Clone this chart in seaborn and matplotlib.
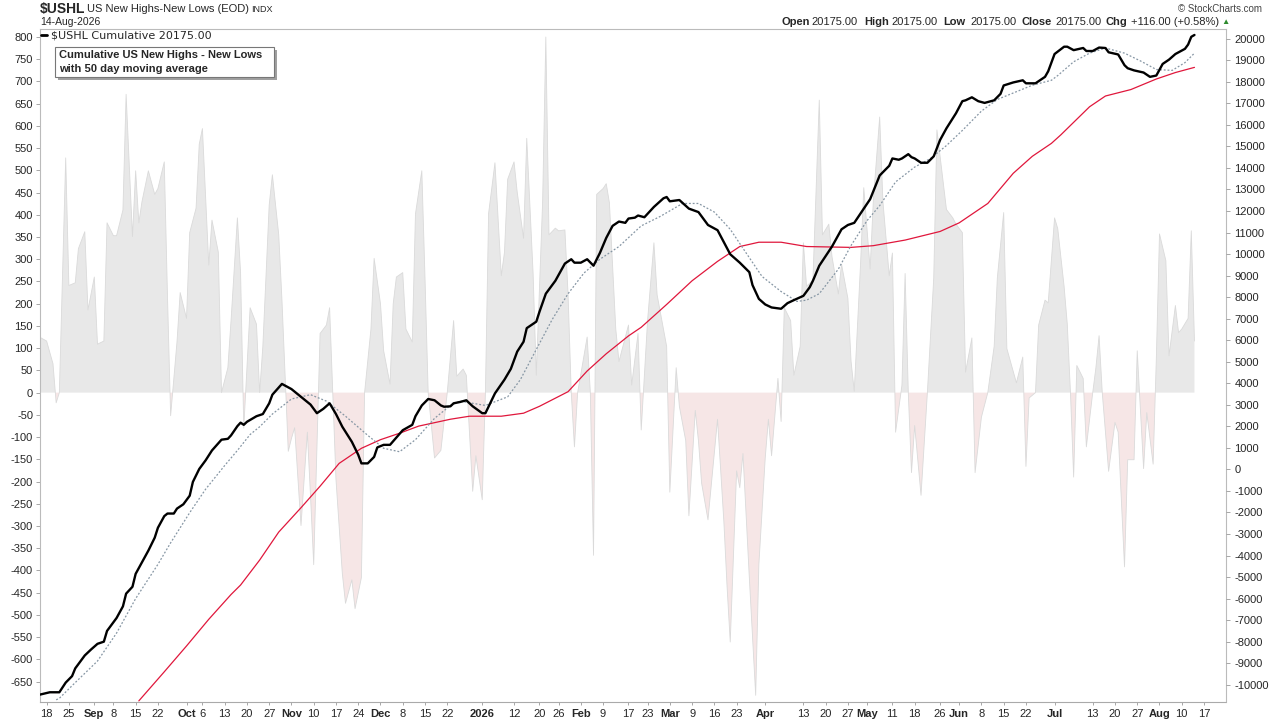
import matplotlib
matplotlib.use('Agg')
import matplotlib.pyplot as plt
from matplotlib.lines import Line2D
from matplotlib.patches import Rectangle
import numpy as np
import pandas as pd
import seaborn as sns

# daily new highs - new lows (left axis), vertices
hl_dates = [
    '2025-08-15', '2025-08-18', '2025-08-20', '2025-08-21', '2025-08-22', '2025-08-24', '2025-08-25', '2025-08-27',
    '2025-08-28', '2025-08-30', '2025-08-31', '2025-09-02', '2025-09-03', '2025-09-05', '2025-09-06', '2025-09-08',
    '2025-09-09', '2025-09-11', '2025-09-12', '2025-09-14', '2025-09-15', '2025-09-16', '2025-09-17', '2025-09-19',
    '2025-09-21', '2025-09-22', '2025-09-24', '2025-09-25', '2025-09-26', '2025-09-28', '2025-09-29', '2025-10-01',
    '2025-10-02', '2025-10-04', '2025-10-05', '2025-10-06', '2025-10-08', '2025-10-09', '2025-10-11', '2025-10-12',
    '2025-10-14', '2025-10-15', '2025-10-17', '2025-10-18', '2025-10-19', '2025-10-21', '2025-10-23', '2025-10-24',
    '2025-10-25', '2025-10-27', '2025-10-28', '2025-10-30', '2025-10-31', '2025-11-02', '2025-11-03', '2025-11-04',
    '2025-11-06', '2025-11-08', '2025-11-09', '2025-11-10', '2025-11-12', '2025-11-14', '2025-11-15', '2025-11-16',
    '2025-11-17', '2025-11-19', '2025-11-20', '2025-11-22', '2025-11-23', '2025-11-25', '2025-11-26', '2025-11-28',
    '2025-11-29', '2025-12-01', '2025-12-02', '2025-12-04', '2025-12-05', '2025-12-06', '2025-12-08', '2025-12-09',
    '2025-12-11', '2025-12-12', '2025-12-14', '2025-12-15', '2025-12-16', '2025-12-18', '2025-12-20', '2025-12-22',
    '2025-12-24', '2025-12-25', '2025-12-27', '2025-12-28', '2025-12-30', '2025-12-31', '2026-01-02', '2026-01-03',
    '2026-01-04', '2026-01-06', '2026-01-08', '2026-01-09', '2026-01-10', '2026-01-12', '2026-01-13', '2026-01-15',
    '2026-01-16', '2026-01-18', '2026-01-19', '2026-01-21', '2026-01-22', '2026-01-23', '2026-01-25', '2026-01-26',
    '2026-01-28', '2026-01-29', '2026-01-30', '2026-01-31', '2026-02-01', '2026-02-02', '2026-02-04', '2026-02-05',
    '2026-02-06', '2026-02-07', '2026-02-09', '2026-02-10', '2026-02-11', '2026-02-13', '2026-02-14', '2026-02-17',
    '2026-02-18', '2026-02-20', '2026-02-21', '2026-02-23', '2026-02-25', '2026-02-26', '2026-02-27', '2026-03-01',
    '2026-03-02', '2026-03-04', '2026-03-05', '2026-03-07', '2026-03-08', '2026-03-10', '2026-03-11', '2026-03-12',
    '2026-03-14', '2026-03-16', '2026-03-17', '2026-03-19', '2026-03-20', '2026-03-21', '2026-03-23', '2026-03-24',
    '2026-03-25', '2026-03-27', '2026-03-29', '2026-03-30', '2026-04-01', '2026-04-02', '2026-04-03', '2026-04-05',
    '2026-04-06', '2026-04-07', '2026-04-09', '2026-04-10', '2026-04-12', '2026-04-13', '2026-04-14', '2026-04-16',
    '2026-04-18', '2026-04-19', '2026-04-21', '2026-04-22', '2026-04-24', '2026-04-25', '2026-04-27', '2026-04-28',
    '2026-04-29', '2026-05-01', '2026-05-02', '2026-05-04', '2026-05-05', '2026-05-07', '2026-05-08', '2026-05-10',
    '2026-05-11', '2026-05-12', '2026-05-14', '2026-05-15', '2026-05-16', '2026-05-17', '2026-05-18', '2026-05-20',
    '2026-05-22', '2026-05-24', '2026-05-25', '2026-05-28', '2026-05-30', '2026-05-31', '2026-06-02', '2026-06-03',
    '2026-06-05', '2026-06-06', '2026-06-08', '2026-06-10', '2026-06-12', '2026-06-13', '2026-06-15', '2026-06-16',
    '2026-06-19', '2026-06-21', '2026-06-22', '2026-06-23', '2026-06-25', '2026-06-26', '2026-06-28', '2026-06-29',
    '2026-07-01', '2026-07-02', '2026-07-04', '2026-07-05', '2026-07-06', '2026-07-07', '2026-07-08', '2026-07-10',
    '2026-07-11', '2026-07-13', '2026-07-14', '2026-07-15', '2026-07-16', '2026-07-18', '2026-07-20', '2026-07-21',
    '2026-07-23', '2026-07-24', '2026-07-26', '2026-07-27', '2026-07-29', '2026-07-30', '2026-08-01', '2026-08-02',
    '2026-08-03', '2026-08-05', '2026-08-06', '2026-08-08', '2026-08-09', '2026-08-10', '2026-08-12', '2026-08-13',
    '2026-08-14',
]
hl_values = [
    128, 116, 65, -23, 0, 528, 241, 247,
    324, 362, 186, 260, 109, 116, 382, 353,
    353, 411, 671, 351, 499, 382, 430, 499,
    446, 459, 519, 220, -52, 114, 225, 167,
    360, 415, 559, 594, 287, 388, 316, 0,
    56, 162, 393, 270, -80, 191, 154, 0,
    104, 422, 490, 355, 210, -132, -103, -79,
    -299, -89, -233, -387, 133, 152, 191, 0,
    -195, -407, -474, -421, -486, -416, 0, 143,
    302, 200, 94, 19, 200, 260, 270, 143,
    114, 402, 499, 258, 0, -147, -130, 0,
    162, 37, 53, 39, -222, -142, -241, 0,
    403, 517, 263, 316, 480, 519, 451, 347,
    572, 268, 39, 431, 800, 355, 370, 364,
    366, 220, 0, -122, 0, 41, 125, 0,
    -366, 446, 459, 470, 427, 143, 70, 152,
    17, 133, -84, 162, 337, 220, 181, 104,
    -224, 56, -31, -108, -277, -40, -108, -204,
    -286, -137, -60, -291, -436, -561, -176, -214,
    -137, -416, -681, -387, -147, -60, -142, 32,
    -65, 191, 162, 39, 104, 337, 239, 253,
    658, 355, 379, 306, 222, 289, 212, 70,
    3, 292, 461, 278, 432, 620, 432, 263,
    314, -89, 17, 268, 0, -180, -74, -231,
    0, 258, 591, 412, 393, 379, 360, 46,
    123, -180, -55, 0, 104, 258, 405, 99,
    22, 80, -166, -12, 0, 152, 208, 202,
    393, 369, 239, 154, 0, -190, 61, 32,
    -122, 0, 56, 128, 0, -177, -67, -89,
    -392, -151, -151, 94, -171, -45, -161, 75,
    357, 297, 83, 196, 135, 143, 167, 364,
    116,
]

# cumulative line (right axis)
cum_dates = [
    '2025-08-15', '2025-08-19', '2025-08-22', '2025-08-24', '2025-08-26', '2025-08-27', '2025-08-30', '2025-09-01',
    '2025-09-03', '2025-09-05', '2025-09-06', '2025-09-09', '2025-09-11', '2025-09-12', '2025-09-14', '2025-09-15',
    '2025-09-17', '2025-09-19', '2025-09-21', '2025-09-22', '2025-09-24', '2025-09-25', '2025-09-27', '2025-09-28',
    '2025-09-30', '2025-10-02', '2025-10-03', '2025-10-05', '2025-10-07', '2025-10-09', '2025-10-12', '2025-10-14',
    '2025-10-15', '2025-10-17', '2025-10-18', '2025-10-19', '2025-10-20', '2025-10-23', '2025-10-25', '2025-10-27',
    '2025-10-28', '2025-10-31', '2025-11-03', '2025-11-04', '2025-11-06', '2025-11-09', '2025-11-11', '2025-11-13',
    '2025-11-15', '2025-11-17', '2025-11-19', '2025-11-22', '2025-11-24', '2025-11-25', '2025-11-27', '2025-11-29',
    '2025-11-30', '2025-12-02', '2025-12-04', '2025-12-06', '2025-12-08', '2025-12-11', '2025-12-12', '2025-12-14',
    '2025-12-16', '2025-12-18', '2025-12-20', '2025-12-21', '2025-12-23', '2025-12-24', '2025-12-26', '2025-12-28',
    '2025-12-30', '2026-01-02', '2026-01-03', '2026-01-06', '2026-01-09', '2026-01-11', '2026-01-13', '2026-01-15',
    '2026-01-16', '2026-01-19', '2026-01-20', '2026-01-22', '2026-01-25', '2026-01-28', '2026-01-30', '2026-01-31',
    '2026-02-02', '2026-02-04', '2026-02-06', '2026-02-08', '2026-02-10', '2026-02-12', '2026-02-14', '2026-02-16',
    '2026-02-17', '2026-02-19', '2026-02-20', '2026-02-22', '2026-02-25', '2026-02-28', '2026-03-01', '2026-03-02',
    '2026-03-05', '2026-03-08', '2026-03-11', '2026-03-14', '2026-03-17', '2026-03-19', '2026-03-21', '2026-03-24',
    '2026-03-27', '2026-03-28', '2026-03-30', '2026-04-01', '2026-04-03', '2026-04-06', '2026-04-08', '2026-04-10',
    '2026-04-13', '2026-04-15', '2026-04-16', '2026-04-18', '2026-04-22', '2026-04-25', '2026-04-27', '2026-04-29',
    '2026-05-02', '2026-05-04', '2026-05-07', '2026-05-10', '2026-05-11', '2026-05-13', '2026-05-14', '2026-05-16',
    '2026-05-17', '2026-05-18', '2026-05-20', '2026-05-22', '2026-05-24', '2026-05-26', '2026-05-28', '2026-05-31',
    '2026-06-02', '2026-06-03', '2026-06-05', '2026-06-07', '2026-06-09', '2026-06-12', '2026-06-14', '2026-06-15',
    '2026-06-18', '2026-06-21', '2026-06-22', '2026-06-25', '2026-06-28', '2026-06-29', '2026-07-01', '2026-07-04',
    '2026-07-05', '2026-07-07', '2026-07-10', '2026-07-11', '2026-07-13', '2026-07-15', '2026-07-17', '2026-07-18',
    '2026-07-21', '2026-07-23', '2026-07-24', '2026-07-26', '2026-07-29', '2026-07-31', '2026-08-02', '2026-08-04',
    '2026-08-06', '2026-08-08', '2026-08-11', '2026-08-12', '2026-08-13', '2026-08-14',
]
cum_values = [
    -10490, -10350, -10350, -9900, -9600, -9240, -8640, -8360,
    -8100, -8000, -7500, -6900, -6360, -5770, -5450, -4850,
    -4310, -3770, -3170, -2710, -2170, -2050, -2050, -1820,
    -1620, -1220, -580, 20, 420, 880, 1380, 1420,
    1580, 2010, 2170, 2070, 2210, 2470, 2570, 3070,
    3470, 3970, 3730, 3610, 3370, 3010, 2610, 2810,
    3070, 2570, 1980, 1280, 680, 280, 280, 580,
    1020, 1140, 1140, 1480, 1820, 2070, 2470, 2970,
    3270, 3210, 2970, 2910, 2930, 3070, 3130, 3210,
    2930, 2610, 2610, 3530, 4170, 4670, 5470, 5930,
    6560, 6860, 7320, 8160, 8760, 9560, 9760, 9600,
    9600, 9760, 9460, 10050, 10750, 11310, 11510, 11450,
    11650, 11690, 11790, 11710, 12190, 12590, 12650, 12450,
    12510, 12110, 11950, 11350, 11110, 10550, 9990, 9600,
    9160, 8560, 7920, 7660, 7520, 7460, 7720, 7860,
    8060, 8460, 8760, 9460, 10350, 11150, 11350, 11450,
    12110, 12550, 13650, 14100, 14440, 14380, 14440, 14640,
    14500, 14440, 14240, 14240, 14540, 15300, 15840, 16540,
    17100, 17140, 17280, 17100, 17020, 17140, 17440, 17830,
    17970, 18070, 17930, 17930, 18230, 18490, 19290, 19630,
    19630, 19470, 19570, 19430, 19430, 19590, 19570, 19370,
    19270, 18770, 18630, 18530, 18430, 18230, 18290, 18830,
    19030, 19290, 19530, 19730, 20090, 20175,
]

# short moving average of the cumulative line (dotted)
ma_dates = [
    '2025-08-21', '2025-08-22', '2025-08-27', '2025-09-03', '2025-09-09', '2025-09-15', '2025-09-22', '2025-09-26',
    '2025-10-02', '2025-10-07', '2025-10-13', '2025-10-17', '2025-10-21', '2025-10-24', '2025-10-28', '2025-11-03',
    '2025-11-09', '2025-11-14', '2025-11-20', '2025-11-27', '2025-12-02', '2025-12-07', '2025-12-12', '2025-12-18',
    '2025-12-23', '2025-12-26', '2026-01-03', '2026-01-10', '2026-01-14', '2026-01-19', '2026-01-24', '2026-01-29',
    '2026-02-03', '2026-02-08', '2026-02-14', '2026-02-21', '2026-02-27', '2026-03-06', '2026-03-11', '2026-03-16',
    '2026-03-21', '2026-03-26', '2026-03-31', '2026-04-06', '2026-04-11', '2026-04-14', '2026-04-18', '2026-04-24',
    '2026-04-28', '2026-05-03', '2026-05-07', '2026-05-12', '2026-05-18', '2026-05-23', '2026-05-28', '2026-06-02',
    '2026-06-08', '2026-06-13', '2026-06-19', '2026-06-24', '2026-06-30', '2026-07-02', '2026-07-07', '2026-07-12',
    '2026-07-17', '2026-07-23', '2026-07-28', '2026-08-02', '2026-08-07', '2026-08-11', '2026-08-14',
]
ma_values = [
    -10700, -10630, -9900, -8900, -7600, -6000, -4410, -3410,
    -2010, -920, 180, 880, 1620, 1980, 2570, 3270,
    3470, 3170, 2470, 1580, 980, 820, 1380, 2370,
    2970, 3170, 2970, 3370, 4170, 5570, 6960, 8160,
    9120, 9760, 10350, 11310, 11750, 12350, 12350, 11950,
    11150, 10050, 8960, 8260, 7800, 7860, 8160, 9300,
    10400, 11550, 12250, 13350, 14040, 14440, 15040, 15740,
    16640, 17180, 17540, 17840, 18070, 18290, 18930, 19330,
    19570, 19330, 18970, 18570, 18530, 18890, 19330,
]

# long moving average (red)
red_dates = [
    '2025-09-16', '2025-09-24', '2025-10-01', '2025-10-08', '2025-10-15', '2025-10-18', '2025-10-24', '2025-10-30',
    '2025-11-06', '2025-11-12', '2025-11-18', '2025-11-25', '2025-12-01', '2025-12-07', '2025-12-13', '2025-12-23',
    '2025-12-29', '2026-01-08', '2026-01-15', '2026-01-20', '2026-01-29', '2026-02-04', '2026-02-10', '2026-02-17',
    '2026-02-21', '2026-03-01', '2026-03-09', '2026-03-17', '2026-03-24', '2026-03-30', '2026-04-06', '2026-04-14',
    '2026-04-28', '2026-05-05', '2026-05-15', '2026-05-26', '2026-06-01', '2026-06-10', '2026-06-18', '2026-06-24',
    '2026-06-30', '2026-07-03', '2026-07-12', '2026-07-17', '2026-07-25', '2026-08-02', '2026-08-08', '2026-08-14',
]
red_values = [
    -10750, -9400, -8200, -6960, -5810, -5370, -4210, -2910,
    -1780, -780, 280, 980, 1380, 1680, 2010, 2330,
    2470, 2470, 2610, 2930, 3610, 4570, 5370, 6200,
    6600, 7660, 8760, 9660, 10350, 10550, 10550, 10350,
    10310, 10390, 10650, 11050, 11450, 12350, 13750, 14540,
    15140, 15540, 16840, 17340, 17640, 18130, 18430, 18670,
]

tick_dates = [
    '2025-08-18', '2025-08-25', '2025-09-02', '2025-09-08', '2025-09-15', '2025-09-22', '2025-10-01', '2025-10-06',
    '2025-10-13', '2025-10-20', '2025-10-27', '2025-11-03', '2025-11-10', '2025-11-17', '2025-11-24', '2025-12-01',
    '2025-12-08', '2025-12-15', '2025-12-22', '2026-01-02', '2026-01-12', '2026-01-20', '2026-01-26', '2026-02-02',
    '2026-02-09', '2026-02-17', '2026-02-23', '2026-03-02', '2026-03-09', '2026-03-16', '2026-03-23', '2026-04-01',
    '2026-04-13', '2026-04-20', '2026-04-27', '2026-05-03', '2026-05-11', '2026-05-18', '2026-05-26', '2026-06-01',
    '2026-06-08', '2026-06-15', '2026-06-22', '2026-07-01', '2026-07-13', '2026-07-20', '2026-07-27', '2026-08-03',
    '2026-08-10', '2026-08-17',
]
tick_labels = [
    '18', '25', 'Sep', '8', '15', '22', 'Oct', '6',
    '13', '20', '27', 'Nov', '10', '17', '24', 'Dec',
    '8', '15', '22', '2026', '12', '20', '26', 'Feb',
    '9', '17', '23', 'Mar', '9', '16', '23', 'Apr',
    '13', '20', '27', 'May', '11', '18', '26', 'Jun',
    '8', '15', '22', 'Jul', '13', '20', '27', 'Aug',
    '10', '17',
]

W, H = 1280, 720


def fx(x):
    return x / W


def fy(y):
    return 1 - y / H


sns.set_style('white')
plt.rcParams['font.family'] = ['Liberation Sans', 'DejaVu Sans']
plt.rcParams['axes.unicode_minus'] = False

hl = pd.DataFrame({'date': pd.to_datetime(hl_dates), 'value': hl_values})
cum = pd.DataFrame({'date': pd.to_datetime(cum_dates), 'value': cum_values})
ma = pd.DataFrame({'date': pd.to_datetime(ma_dates), 'value': ma_values})
red = pd.DataFrame({'date': pd.to_datetime(red_dates), 'value': red_values})

fig = plt.figure(figsize=(12.8, 7.2), dpi=100)
fig.patch.set_facecolor('white')
ax = fig.add_axes([fx(40), fy(702), fx(1226) - fx(40), fy(29) - fy(702)])

v = hl['value'].to_numpy()
ax.fill_between(hl['date'], v, 0, where=v >= 0, interpolate=True, facecolor='#e8e8e8', linewidth=0)
ax.fill_between(hl['date'], v, 0, where=v <= 0, interpolate=True, facecolor='#f6e6e6', linewidth=0)
sns.lineplot(data=hl, x='date', y='value', ax=ax, color='#dadada', linewidth=0.6,
             estimator=None, sort=False)

ax.set_ylim(-696, 818)
ax.set_yticks(np.arange(-650, 801, 50))
ax.set_xlim(pd.Timestamp('2025-08-15 22:00'), pd.Timestamp('2026-08-23 22:00'))
ax.set_xticks(pd.to_datetime(tick_dates))
ax.set_xticklabels(tick_labels)
for lab in ax.get_xticklabels():
    if not (lab.get_text().isdigit() and len(lab.get_text()) <= 2):
        lab.set_fontweight('bold')
        lab.set_fontsize(8.5)
ax.set_xlabel('')
ax.set_ylabel('')
ax.tick_params(axis='y', left=True, length=3, width=0.6, color='#999999', labelsize=8, pad=2)
ax.tick_params(axis='x', bottom=True, length=2, width=0.6, color='#999999', labelsize=8, pad=3)
for side in ['left', 'top', 'right']:
    ax.spines[side].set_color('#bbbbbb')
    ax.spines[side].set_linewidth(0.8)
ax.spines['bottom'].set_color('#aaaaaa')
ax.spines['bottom'].set_linestyle((0, (1, 1)))
ax.spines['bottom'].set_linewidth(0.8)

ax2 = ax.twinx()
sns.lineplot(data=red, x='date', y='value', ax=ax2, color='#e0173c', linewidth=0.9,
             estimator=None, sort=False)
sns.lineplot(data=ma, x='date', y='value', ax=ax2, color='#8696a4', linewidth=0.9,
             linestyle=(0, (1.5, 1.5)), estimator=None, sort=False)
sns.lineplot(data=cum, x='date', y='value', ax=ax2, color='black', linewidth=1.7,
             estimator=None, sort=False)
ax2.set_ylim(-10802, 20452)
ax2.set_yticks(np.arange(-10000, 20001, 1000))
ax2.set_xlim(ax.get_xlim())
ax2.set_xlabel('')
ax2.set_ylabel('')
ax2.tick_params(axis='y', right=True, length=3, width=0.6, color='#999999', labelsize=8, pad=3)
for s in ax2.spines.values():
    s.set_visible(False)

# headers
fig.text(fx(40), fy(9), '$USHL', fontsize=10, fontweight='bold', va='center', parse_math=False)
fig.text(fx(87), fy(9), 'US New Highs-New Lows (EOD)', fontsize=8, va='center')
fig.text(fx(251), fy(9.5), 'INDX', fontsize=6.5, va='center')
fig.text(fx(40), fy(22), '14-Aug-2026', fontsize=7.5, va='center')
fig.text(fx(1262), fy(9), '\u00a9 StockCharts.com', fontsize=7, va='center', ha='right', color='#444444')

top_row = [
    (781, 'Open', 'bold'), (811, '20175.00', 'normal'),
    (864, 'High', 'bold'), (891, '20175.00', 'normal'),
    (943, 'Low', 'bold'), (970, '20175.00', 'normal'),
    (1021, 'Close', 'bold'), (1055, '20175.00', 'normal'),
    (1106, 'Chg', 'bold'), (1131, '+116.00 (+0.58%)', 'normal'),
]
for xp, txt, wt in top_row:
    fig.text(fx(xp), fy(22), txt, fontsize=8, fontweight=wt, va='center')
fig.text(fx(1225), fy(22), '\u25b2', fontsize=6, va='center', ha='center', color='#2e8b2e')

# legend entry
fig.add_artist(Line2D([fx(41), fx(47)], [fy(35), fy(35)], color='black', linewidth=2))
fig.text(fx(51), fy(35.5), '$USHL Cumulative 20175.00', fontsize=8, va='center',
         family=['DejaVu Sans'], parse_math=False)

# annotation box with shadow
fig.add_artist(Rectangle((fx(58), fy(80)), fx(219), fy(0) - fy(30), transform=fig.transFigure,
                         facecolor='#a0a0a0', edgecolor='none'))
fig.add_artist(Rectangle((fx(55), fy(77)), fx(219), fy(0) - fy(30), transform=fig.transFigure,
                         facecolor='white', edgecolor='#777777', linewidth=0.8))
fig.text(fx(59), fy(55), 'Cumulative US New Highs - New Lows', fontsize=8, fontweight='bold', va='center')
fig.text(fx(59), fy(69), 'with 50 day moving average', fontsize=8, fontweight='bold', va='center')

fig.savefig('out.png', dpi=100)
